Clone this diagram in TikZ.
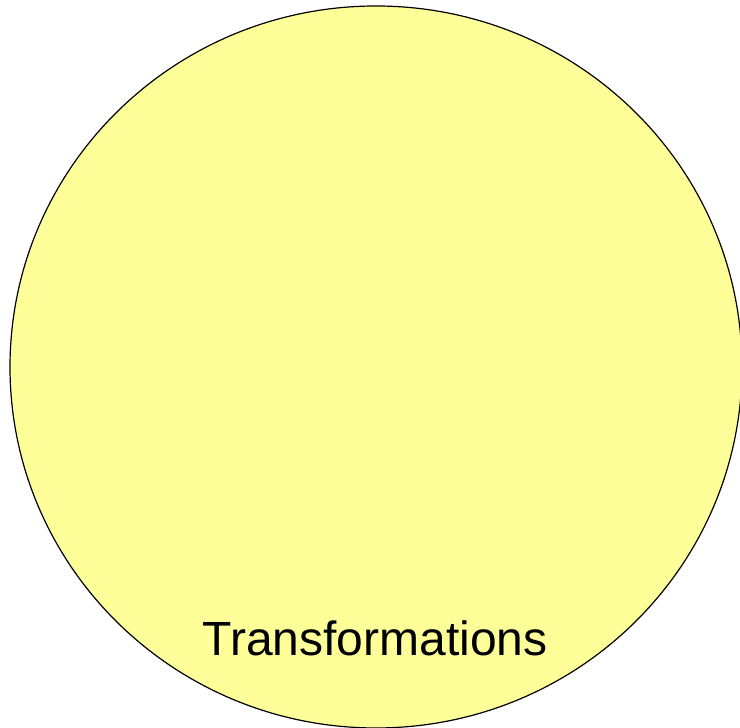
\documentclass[tikz,border=0pt]{standalone}
\usepackage{fontspec}
\setmainfont{Liberation Sans}
\usetikzlibrary{shapes.geometric}
\definecolor{paleyellow}{HTML}{FFFF99}

\begin{document}
\begin{tikzpicture}[x=1pt, y=1pt,
  blob/.style={ellipse, draw=black, line width=1.2pt, fill=paleyellow,
    minimum width=732pt, minimum height=722pt, inner sep=0pt},
  lbl/.style={font=\fontsize{48}{52}\selectfont, text=black, inner sep=0pt}]

% Frame
\useasboundingbox (0,0) rectangle (740,728);
\clip (0,0) rectangle (740,728);

% Set
\node[blob] (transf) at (376,361) {};

% Label
\node[lbl, anchor=base] (transflbl) at (375,72) {Transformations};

\end{tikzpicture}
\end{document}
